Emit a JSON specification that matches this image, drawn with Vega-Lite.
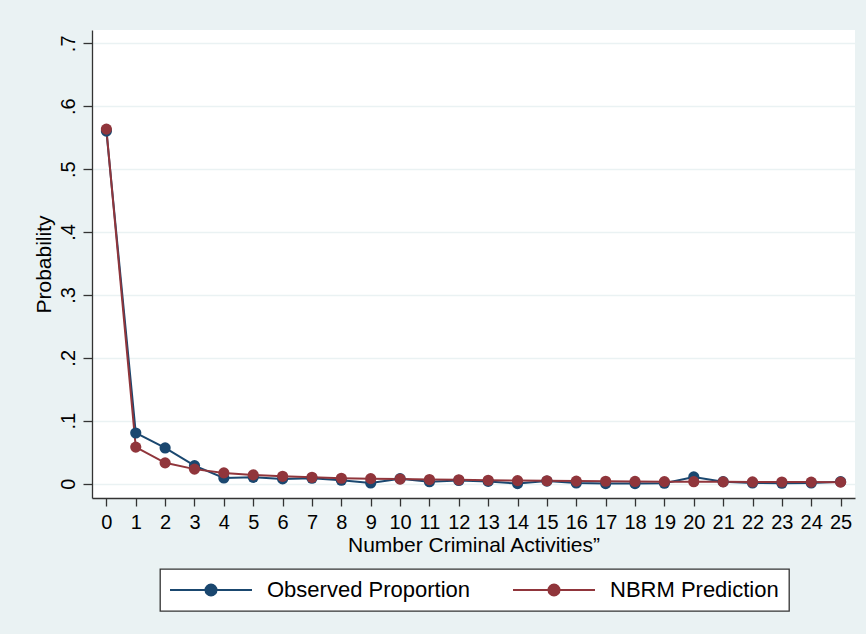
{
  "$schema": "https://vega.github.io/schema/vega-lite/v6.json",
  "width": 763,
  "height": 468,
  "autosize": {"type": "none"},
  "padding": {"left": 92, "top": 30, "right": 11, "bottom": 136},
  "background": "#EAF2F3",
  "config": {
    "font": "Liberation Sans",
    "view": {"fill": "white", "stroke": null},
    "legend": {"strokeWidth": 1.3}
  },
  "data": {
    "values": [
      {"x": 0, "series": "Observed Proportion", "p": 0.5605},
      {"x": 1, "series": "Observed Proportion", "p": 0.0805},
      {"x": 2, "series": "Observed Proportion", "p": 0.0567},
      {"x": 3, "series": "Observed Proportion", "p": 0.0286},
      {"x": 4, "series": "Observed Proportion", "p": 0.009},
      {"x": 5, "series": "Observed Proportion", "p": 0.010},
      {"x": 6, "series": "Observed Proportion", "p": 0.0075},
      {"x": 7, "series": "Observed Proportion", "p": 0.0085},
      {"x": 8, "series": "Observed Proportion", "p": 0.0053},
      {"x": 9, "series": "Observed Proportion", "p": 0.0010},
      {"x": 10, "series": "Observed Proportion", "p": 0.0078},
      {"x": 11, "series": "Observed Proportion", "p": 0.003},
      {"x": 12, "series": "Observed Proportion", "p": 0.005},
      {"x": 13, "series": "Observed Proportion", "p": 0.0035},
      {"x": 14, "series": "Observed Proportion", "p": 0.0},
      {"x": 15, "series": "Observed Proportion", "p": 0.004},
      {"x": 16, "series": "Observed Proportion", "p": 0.001},
      {"x": 17, "series": "Observed Proportion", "p": 0.0},
      {"x": 18, "series": "Observed Proportion", "p": 0.0},
      {"x": 19, "series": "Observed Proportion", "p": 0.0005},
      {"x": 20, "series": "Observed Proportion", "p": 0.0106},
      {"x": 21, "series": "Observed Proportion", "p": 0.003},
      {"x": 22, "series": "Observed Proportion", "p": 0.001},
      {"x": 23, "series": "Observed Proportion", "p": 0.0005},
      {"x": 24, "series": "Observed Proportion", "p": 0.001},
      {"x": 25, "series": "Observed Proportion", "p": 0.003},
      {"x": 0, "series": "NBRM Prediction", "p": 0.5636},
      {"x": 1, "series": "NBRM Prediction", "p": 0.058},
      {"x": 2, "series": "NBRM Prediction", "p": 0.033},
      {"x": 3, "series": "NBRM Prediction", "p": 0.023},
      {"x": 4, "series": "NBRM Prediction", "p": 0.017},
      {"x": 5, "series": "NBRM Prediction", "p": 0.0138},
      {"x": 6, "series": "NBRM Prediction", "p": 0.0116},
      {"x": 7, "series": "NBRM Prediction", "p": 0.010},
      {"x": 8, "series": "NBRM Prediction", "p": 0.0085},
      {"x": 9, "series": "NBRM Prediction", "p": 0.0079},
      {"x": 10, "series": "NBRM Prediction", "p": 0.0072},
      {"x": 11, "series": "NBRM Prediction", "p": 0.0064},
      {"x": 12, "series": "NBRM Prediction", "p": 0.006},
      {"x": 13, "series": "NBRM Prediction", "p": 0.0053},
      {"x": 14, "series": "NBRM Prediction", "p": 0.0048},
      {"x": 15, "series": "NBRM Prediction", "p": 0.0045},
      {"x": 16, "series": "NBRM Prediction", "p": 0.0040},
      {"x": 17, "series": "NBRM Prediction", "p": 0.0037},
      {"x": 18, "series": "NBRM Prediction", "p": 0.0034},
      {"x": 19, "series": "NBRM Prediction", "p": 0.0031},
      {"x": 20, "series": "NBRM Prediction", "p": 0.0030},
      {"x": 21, "series": "NBRM Prediction", "p": 0.0028},
      {"x": 22, "series": "NBRM Prediction", "p": 0.0026},
      {"x": 23, "series": "NBRM Prediction", "p": 0.0025},
      {"x": 24, "series": "NBRM Prediction", "p": 0.0024},
      {"x": 25, "series": "NBRM Prediction", "p": 0.0023}
    ]
  },
  "mark": {
    "type": "line",
    "strokeWidth": 2,
    "point": {"filled": true, "size": 125, "opacity": 1, "strokeWidth": 1}
  },
  "encoding": {
    "x": {
      "field": "x",
      "type": "quantitative",
      "scale": {"domain": [-0.49, 25.49], "nice": false, "zero": false},
      "axis": {
        "title": "Number Criminal Activities\u201d",
        "values": [0,1,2,3,4,5,6,7,8,9,10,11,12,13,14,15,16,17,18,19,20,21,22,23,24,25],
        "grid": false,
        "domainColor": "#333333",
        "domainWidth": 1.3,
        "tickColor": "#333333",
        "tickWidth": 1.3,
        "tickSize": 8,
        "labelFontSize": 20,
        "labelColor": "#000000",
        "labelPadding": 6,
        "labelFlush": false,
        "labelOverlap": false,
        "titleFontSize": 21,
        "titleFontWeight": "normal",
        "titleColor": "#000000",
        "titlePadding": 2
      }
    },
    "y": {
      "field": "p",
      "type": "quantitative",
      "scale": {"domain": [-0.0229, 0.7212], "nice": false, "zero": false},
      "axis": {
        "title": "Probability",
        "values": [0, 0.1, 0.2, 0.3, 0.4, 0.5, 0.6, 0.7],
        "labelExpr": "datum.value == 0 ? '0' : replace(format(datum.value, '.1f'), '0.', '.')",
        "grid": true,
        "gridColor": "#EAF2F3",
        "gridWidth": 1.5,
        "domainColor": "#333333",
        "domainWidth": 1.3,
        "tickColor": "#333333",
        "tickWidth": 1.3,
        "tickSize": 9,
        "labelFontSize": 20,
        "labelColor": "#000000",
        "labelAngle": -90,
        "labelAlign": "center",
        "labelBaseline": "alphabetic",
        "labelPadding": 9,
        "labelFlush": false,
        "labelOverlap": false,
        "titleFontSize": 21,
        "titleFontWeight": "normal",
        "titleColor": "#000000",
        "titlePadding": 4
      }
    },
    "color": {
      "field": "series",
      "type": "nominal",
      "scale": {
        "domain": ["Observed Proportion", "NBRM Prediction"],
        "range": ["#1a476f", "#90353b"]
      },
      "legend": {
        "title": null,
        "orient": "none",
        "legendX": 68,
        "legendY": 539,
        "direction": "horizontal",
        "columns": 2,
        "columnPadding": 39,
        "fillColor": "white",
        "strokeColor": "#333333",
        "padding": 10,
        "labelFontSize": 22,
        "labelColor": "#000000",
        "labelLimit": 400,
        "symbolType": "M-6.83,0L6.83,0M0.92,0A0.92,0.92,0,1,1,-0.92,0A0.92,0.92,0,1,1,0.92,0Z",
        "symbolSize": 144,
        "symbolStrokeWidth": 2,
        "symbolOffset": 30,
        "labelOffset": 45,
        "encode": {
          "symbols": {
            "update": {
              "fill": {"scale": "color", "field": "value"},
              "stroke": {"scale": "color", "field": "value"},
              "fillOpacity": {"value": 1},
              "strokeOpacity": {"value": 1}
            }
          }
        }
      }
    }
  }
}
